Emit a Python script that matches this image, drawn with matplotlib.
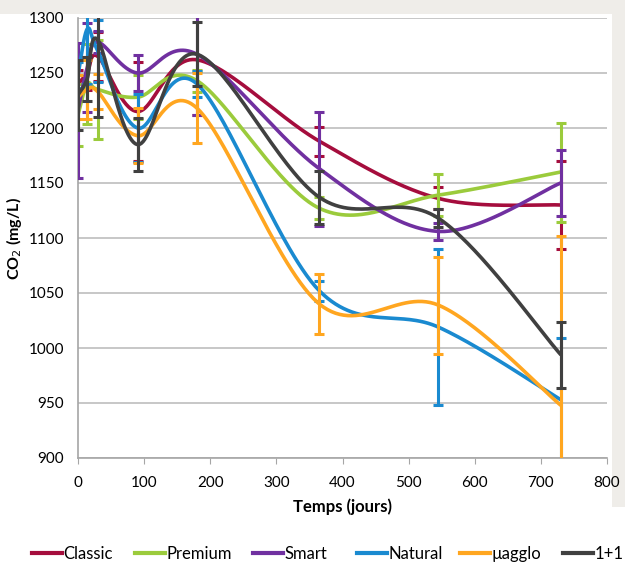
import numpy as np
import matplotlib
matplotlib.use("Agg")
import matplotlib.pyplot as plt
from matplotlib.patches import Rectangle
from matplotlib.lines import Line2D

plt.rcParams['font.family'] = ['Lato', 'DejaVu Sans']

days = [0, 14, 30, 90, 180, 365, 545, 730]
series_names = ["Classic", "Premium", "Smart", "Natural", "µagglo", "1+1"]
colors = ["#A50D3D", "#9BCB3C", "#7030A0", "#1A8AD0", "#FFA620", "#404040"]

classic = [1240, 1250, 1265, 1215, 1262, 1188, 1136, 1130]
classic_err = [13, 15, 22, 45, 50, 13, 10, 40]
premium = [1212, 1240, 1235, 1228, 1243, 1127, 1139, 1160]
premium_err = [28, 36, 45, 20, 10, 10, 19, 45]
smart = [1216, 1255, 1278, 1250, 1267, 1163, 1106, 1150]
smart_err = [61, 40, 10, 16, 55, 52, 8, 30]
natural = [1248, 1290, 1270, 1200, 1240, 1052, 1019, 953]
natural_err = [12, 50, 28, 31, 12, 9, 71, 56]
uagglo = [1228, 1235, 1233, 1193, 1218, 1040, 1039, 948]
uagglo_err = [20, 27, 16, 25, 32, 27, 44, 154]
oneplusone = [1230, 1245, 1280, 1185, 1267, 1137, 1118, 994]
oneplusone_err = [32, 20, 70, 24, 29, 24, 8, 30]

values = [classic, premium, smart, natural, uagglo, oneplusone]
errors = [classic_err, premium_err, smart_err, natural_err, uagglo_err, oneplusone_err]

y_ticks = [900, 950, 1000, 1050, 1100, 1150, 1200, 1250, 1300]
x_ticks = [0, 100, 200, 300, 400, 500, 600, 700, 800]


def smooth(xs, ys, n=60):
    xs = np.asarray(xs, float)
    ys = np.asarray(ys, float)
    px = np.concatenate([[xs[0]], xs, [xs[-1]]])
    py = np.concatenate([[ys[0]], ys, [ys[-1]]])
    ox, oy = [], []
    t = np.linspace(0, 1, n)
    for i in range(1, len(px) - 2):
        p0 = np.array([px[i], py[i]])
        p3 = np.array([px[i + 1], py[i + 1]])
        p1 = p0 + (np.array([px[i + 1], py[i + 1]]) - np.array([px[i - 1], py[i - 1]])) / 6
        p2 = p3 - (np.array([px[i + 2], py[i + 2]]) - np.array([px[i], py[i]])) / 6
        b = ((1 - t) ** 3)[:, None] * p0 + (3 * (1 - t) ** 2 * t)[:, None] * p1 \
            + (3 * (1 - t) * t ** 2)[:, None] * p2 + (t ** 3)[:, None] * p3
        ox.extend(b[:, 0])
        oy.extend(b[:, 1])
    return np.array(ox), np.array(oy)


W, H = 625, 563
fig = plt.figure(figsize=(W / 100, H / 100), dpi=100)
fig.patch.set_facecolor("white")
# subtle shadow strips (behind everything)
fig.patches.append(Rectangle((0, 0.975), 1, 0.025, transform=fig.transFigure,
                             facecolor="#EFEDE9", edgecolor="none", zorder=-5))
fig.patches.append(Rectangle((0.979, 0.10), 0.021, 0.9, transform=fig.transFigure,
                             facecolor="#EFEDE9", edgecolor="none", zorder=-5))

ax = fig.add_axes([78 / W, 1 - 458 / H, (607 - 78) / W, (458 - 18) / H])
ax.set_facecolor("white")

for name, col, v, e in zip(series_names, colors, values, errors):
    sx, sy = smooth(days, v)
    ax.plot(sx, sy, color=col, lw=2.6, label=name, zorder=3, solid_capstyle="round")
    ax.errorbar(days, v, yerr=e, fmt="none", ecolor=col, elinewidth=2.2,
                capsize=3.5, capthick=2.2, zorder=3)

ax.set_xlim(0, 800)
ax.set_ylim(900, 1300)
ax.set_xticks(x_ticks)
ax.set_yticks(y_ticks)
ax.yaxis.grid(True, color="#BEBEBE", lw=1.2)
ax.set_axisbelow(True)
for s in ["top", "right"]:
    ax.spines[s].set_visible(False)
for s in ["left", "bottom"]:
    ax.spines[s].set_color("#A6A6A6")
    ax.spines[s].set_linewidth(1.2)
ax.tick_params(axis="y", length=0, labelsize=11, pad=10)
ax.tick_params(axis="x", length=4, color="#A6A6A6", labelsize=11, pad=9)

ax.set_xlabel("Temps (jours)", fontsize=12, fontweight="bold", labelpad=6)
ax.set_ylabel("CO$_2$ (mg/L)", fontsize=11.5, fontweight="bold", labelpad=3)

# legend: entries placed like the original
legend_x = [32, 135, 253, 357, 460, 563]
for name, col, lx in zip(series_names, colors, legend_x):
    h = Line2D([], [], color=col, lw=3)
    fig.legend([h], [name], loc="center left",
               bbox_to_anchor=(lx / W, 1 - 554 / H),
               frameon=False, fontsize=12, handlelength=1.8,
               handletextpad=0.08, borderpad=0, borderaxespad=0)

fig.savefig("out.png", dpi=100)
